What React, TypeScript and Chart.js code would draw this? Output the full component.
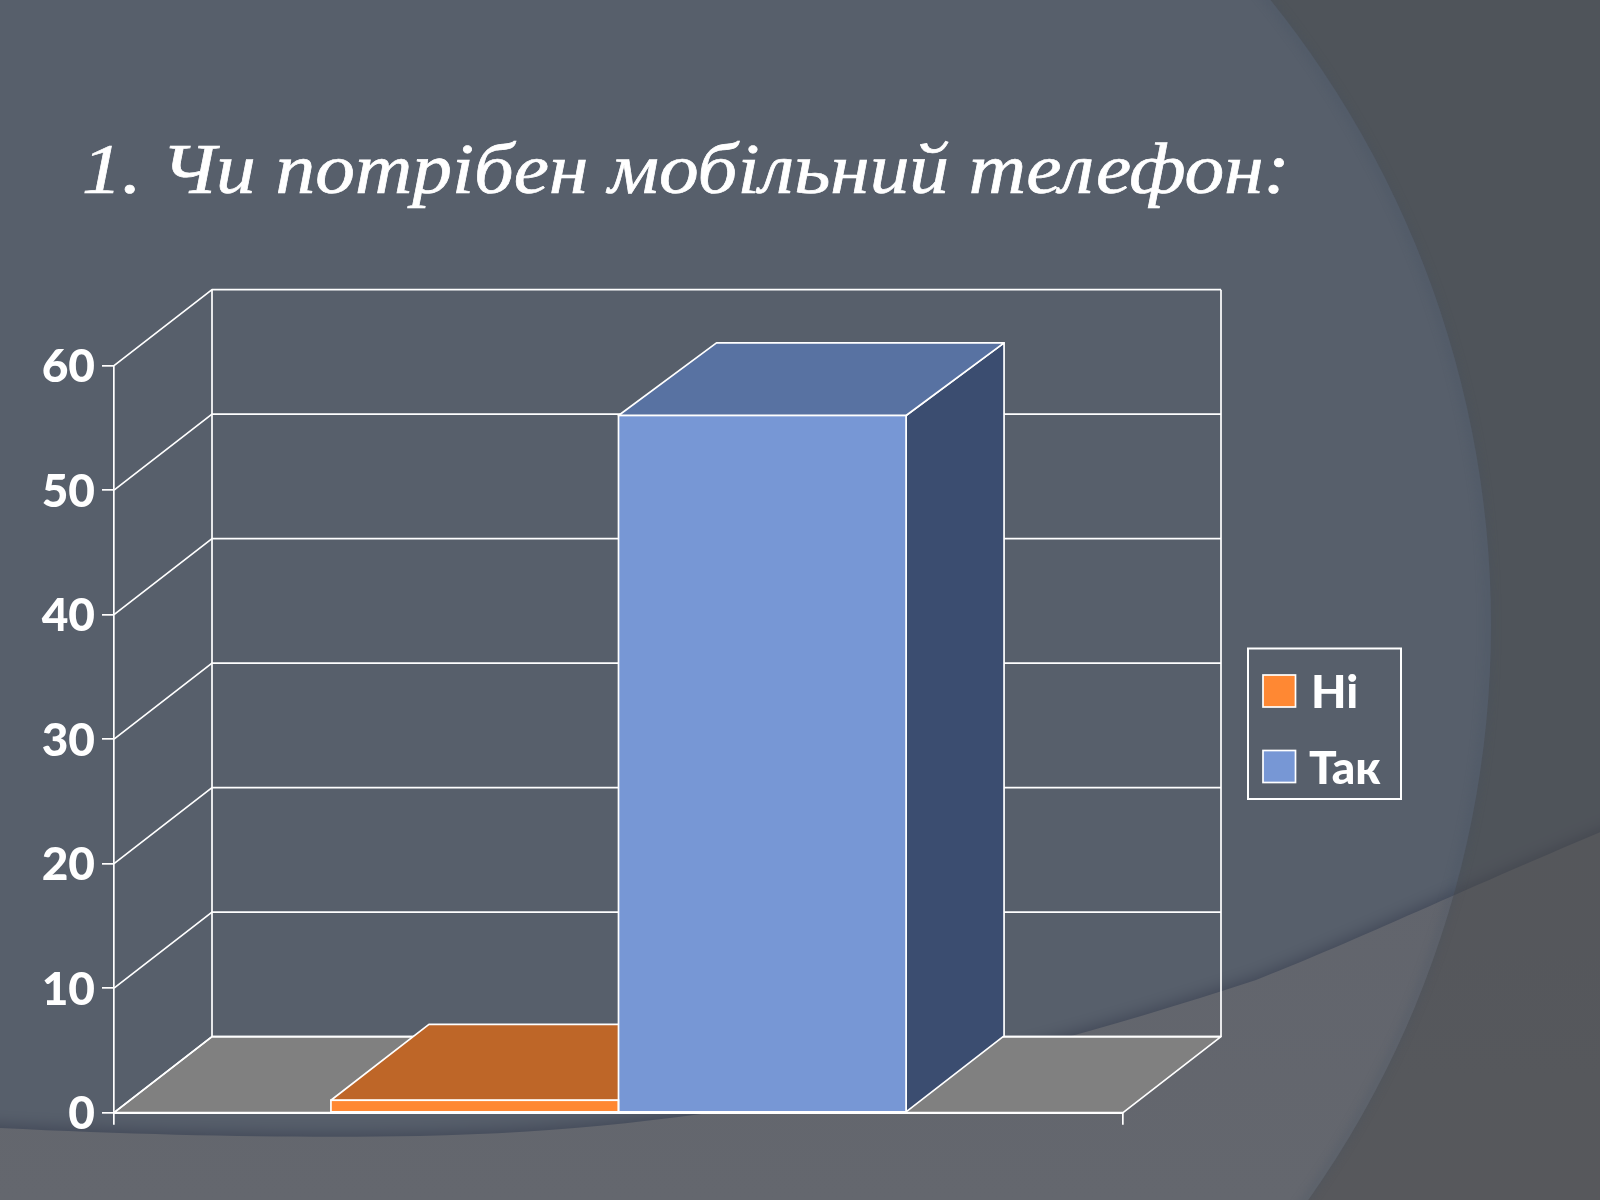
import React, { useEffect, useRef } from "react";
import { Chart, registerables } from "chart.js";

Chart.register(...registerables);

const categories = [""];
const seriesNames = ["Ні", "Так"];
const seriesValues = [[1], [56]];
const frontColors = ["#FF8833", "#7797D5"];
const topColors = ["#BE6628", "#5872A2"];
const sideColors = ["#A85A22", "#3B4D70"];
const yTicks = { min: 0, max: 60, stepSize: 10 };
const titleText = "1. Чи потрібен мобільний телефон:";
const DEPTH_X = 98;
const DEPTH_Y = 76;
const LINE = 1.7;
const LABEL_FONT = "Lato, 'Open Sans'";

function poly(ctx: CanvasRenderingContext2D, pts: number[][], fill?: string) {
  ctx.beginPath();
  pts.forEach((p, i) => (i ? ctx.lineTo(p[0], p[1]) : ctx.moveTo(p[0], p[1])));
  ctx.closePath();
  if (fill) {
    ctx.fillStyle = fill;
    ctx.fill();
  }
  ctx.strokeStyle = "#fff";
  ctx.lineWidth = LINE;
  ctx.lineJoin = "round";
  ctx.stroke();
}

function bandPath(ctx: CanvasRenderingContext2D) {
  ctx.beginPath();
  ctx.moveTo(-20, 1127);
  ctx.bezierCurveTo(150, 1136, 300, 1138, 420, 1136);
  ctx.bezierCurveTo(700, 1130, 950, 1080, 1256, 980);
  ctx.bezierCurveTo(1340, 948, 1480, 882, 1620, 824);
  ctx.lineTo(1620, 1220);
  ctx.lineTo(-20, 1220);
  ctx.closePath();
}

const backgroundPlugin = {
  id: "slideBackground",
  beforeDraw(chart: any) {
    const ctx: CanvasRenderingContext2D = chart.ctx;
    const W = chart.width;
    const H = chart.height;
    ctx.save();
    ctx.fillStyle = "#575F6B";
    ctx.fillRect(0, 0, W, H);

    ctx.save();
    ctx.shadowColor = "rgba(62,68,84,0.9)";
    ctx.shadowBlur = 16;
    ctx.shadowOffsetY = -3;
    const g = ctx.createLinearGradient(0, 830, 0, 1200);
    g.addColorStop(0, "#61646C");
    g.addColorStop(1, "#64676E");
    ctx.fillStyle = g;
    bandPath(ctx);
    ctx.fill();
    ctx.restore();

    // region outside the large circle
    ctx.beginPath();
    ctx.rect(0, 0, W, H);
    ctx.arc(495, 625, 996, 0, Math.PI * 2, true);
    ctx.fillStyle = "rgba(70,70,70,0.45)";
    ctx.fill("evenodd");

    ctx.save();
    ctx.filter = "blur(4px)";
    ctx.beginPath();
    ctx.arc(495, 625, 994, -1.2, 1.25);
    ctx.strokeStyle = "rgba(66,78,98,0.28)";
    ctx.lineWidth = 7;
    ctx.stroke();
    ctx.restore();

    // title
    ctx.font = "italic 72px 'Liberation Serif'";
    ctx.fillStyle = "#fff";
    ctx.strokeStyle = "#fff";
    ctx.lineWidth = 0.7;
    ctx.textBaseline = "alphabetic";
    const w = ctx.measureText(titleText).width;
    ctx.translate(82, 193);
    ctx.scale(1208 / w, 1);
    ctx.fillText(titleText, 0, 0);
    ctx.strokeText(titleText, 0, 0);
    ctx.restore();
  },
};

const depthPlugin = {
  id: "depthWalls",
  beforeDatasetsDraw(chart: any) {
    const ctx: CanvasRenderingContext2D = chart.ctx;
    const x = chart.scales.x;
    const y = chart.scales.y;
    const l = x.left;
    const r = x.right;
    const b = y.getPixelForValue(yTicks.min);
    ctx.save();
    poly(
      ctx,
      [
        [l, b],
        [l + DEPTH_X, b - DEPTH_Y],
        [r + DEPTH_X, b - DEPTH_Y],
        [r, b],
      ],
      "#808080"
    );
    ctx.strokeStyle = "#fff";
    ctx.lineWidth = LINE;
    y.ticks.forEach((t: any) => {
      const py = y.getPixelForValue(t.value);
      ctx.beginPath();
      ctx.moveTo(l, py);
      ctx.lineTo(l + DEPTH_X, py - DEPTH_Y);
      ctx.lineTo(r + DEPTH_X, py - DEPTH_Y);
      ctx.stroke();
    });
    ctx.beginPath();
    const top = y.getPixelForValue(yTicks.max);
    ctx.moveTo(l + DEPTH_X, b - DEPTH_Y);
    ctx.lineTo(l + DEPTH_X, top - DEPTH_Y);
    ctx.moveTo(r + DEPTH_X, b - DEPTH_Y);
    ctx.lineTo(r + DEPTH_X, top - DEPTH_Y);
    ctx.stroke();
    chart.data.datasets.forEach((d: any, i: number) => {
      const el = chart.getDatasetMeta(i).data[0];
      const x0 = el.x - el.width / 2;
      const x1 = el.x + el.width / 2;
      // tall bars recede slightly less at the top (perspective of the original)
      const topDepth = DEPTH_Y - d.data[0] * 0.06;
      poly(
        ctx,
        [
          [x1, el.y],
          [x1 + DEPTH_X, el.y - topDepth],
          [x1 + DEPTH_X, el.base - DEPTH_Y],
          [x1, el.base],
        ],
        sideColors[i]
      );
      poly(
        ctx,
        [
          [x0, el.y],
          [x0 + DEPTH_X, el.y - topDepth],
          [x1 + DEPTH_X, el.y - topDepth],
          [x1, el.y],
        ],
        topColors[i]
      );
    });
    ctx.restore();
  },
  afterDatasetsDraw(chart: any) {
    const ctx: CanvasRenderingContext2D = chart.ctx;
    ctx.save();
    ctx.strokeStyle = "#fff";
    ctx.lineWidth = LINE;
    chart.data.datasets.forEach((_: any, i: number) => {
      const el = chart.getDatasetMeta(i).data[0];
      ctx.strokeRect(el.x - el.width / 2, el.y, el.width, el.base - el.y);
    });
    ctx.restore();
  },
};

const legendPlugin = {
  id: "boxLegend",
  afterDraw(chart: any) {
    const ctx: CanvasRenderingContext2D = chart.ctx;
    ctx.save();
    ctx.strokeStyle = "#fff";
    ctx.lineWidth = 2;
    ctx.strokeRect(1248, 648.5, 153, 150.5);
    ctx.font = `900 46px ${LABEL_FONT}`;
    ctx.textBaseline = "alphabetic";
    chart.data.datasets.forEach((d: any, i: number) => {
      const sy = 675 + i * 75.5;
      ctx.fillStyle = frontColors[i];
      ctx.fillRect(1263, sy, 32.5, 32);
      ctx.lineWidth = 1.7;
      ctx.strokeRect(1263, sy, 32.5, 32);
      ctx.fillStyle = "#fff";
      ctx.fillText(d.label, i === 0 ? 1311 : 1309, 708 + i * 75.5);
    });
    ctx.restore();
  },
};

export default function App() {
  const ref = useRef<HTMLCanvasElement>(null);
  useEffect(() => {
    document.body.style.margin = "0";
    const chart = new Chart(ref.current as HTMLCanvasElement, {
      type: "bar",
      data: {
        labels: categories,
        datasets: seriesNames.map((label, i) => ({
          label,
          data: seriesValues[i],
          backgroundColor: frontColors[i],
          borderWidth: 0,
          categoryPercentage: 0.57,
          barPercentage: 1,
        })),
      },
      options: {
        animation: false,
        responsive: false,
        devicePixelRatio: 1,
        layout: { padding: { top: 365.7, right: 477, bottom: 67.3, left: 0 } },
        plugins: { legend: { display: false }, tooltip: { enabled: false }, title: { display: false } },
        scales: {
          x: {
            afterFit: (s: any) => {
              s.height = 20;
            },
            grid: { drawOnChartArea: false, color: "#fff", lineWidth: LINE, tickLength: 12, offset: true },
            border: { color: "#fff", width: 2 },
            ticks: { display: false },
          },
          y: {
            min: yTicks.min,
            max: yTicks.max,
            afterFit: (s: any) => {
              s.width = 114;
            },
            grid: { drawOnChartArea: false, color: "#fff", lineWidth: LINE, tickLength: 12 },
            border: { color: "#fff", width: LINE },
            ticks: {
              stepSize: yTicks.stepSize,
              color: "#fff",
              padding: 7,
              labelOffset: 1.5,
              font: { family: LABEL_FONT, size: 46, weight: "900" },
            },
          },
        },
      } as any,
      plugins: [backgroundPlugin, depthPlugin, legendPlugin],
    });
    return () => chart.destroy();
  }, []);
  return <canvas ref={ref} width={1600} height={1200} style={{ display: "block", width: 1600, height: 1200 }} />;
}
